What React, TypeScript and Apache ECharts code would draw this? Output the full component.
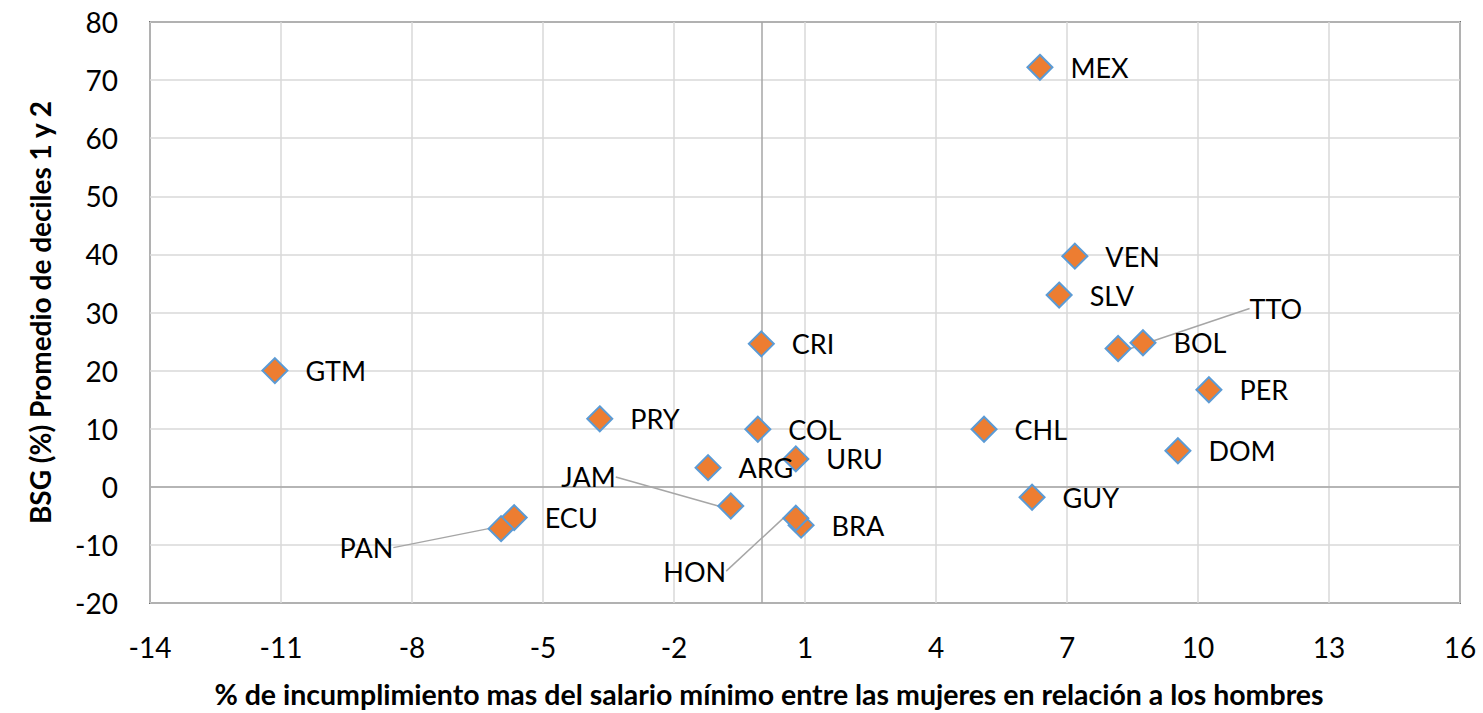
import React, { useEffect, useRef } from "react";
import * as echarts from "echarts";

const codes = ["MEX", "VEN", "SLV", "TTO", "BOL", "PER", "DOM", "CHL", "GUY", "CRI", "COL", "URU", "BRA", "HON", "ARG", "JAM", "PRY", "GTM", "ECU", "PAN"];
const xValues = [6.38, 7.18, 6.82, 8.17, 8.74, 10.25, 9.54, 5.1, 6.2, 0.0, -0.08, 0.79, 0.91, 0.79, -1.22, -0.7, -3.7, -11.14, -5.66, -5.96];
const yValues = [72.2, 39.7, 33.0, 23.8, 24.8, 16.7, 6.2, 9.9, -1.8, 24.6, 9.9, 4.8, -6.6, -5.4, 3.3, -3.3, 11.7, 20.0, -5.3, -7.2];

const xTitle = "% de incumplimiento mas del salario mínimo entre las mujeres en relación a los hombres";
const yTitle = "BSG (%) Promedio de deciles 1 y 2";

// label offsets for labels moved away with a leader line
const moved: Record<string, [number, number]> = {
  TTO: [101, -40],
  JAM: [-200, -29],
  PAN: [-192, 19],
  HON: [-163, 53],
};

export default function App() {
  const ref = useRef<HTMLDivElement>(null);
  useEffect(() => {
    if (!ref.current) return;
    const chart = echarts.init(ref.current, null, { renderer: "svg" });
    const data = codes.map((c, i) => {
      const item: any = { value: [xValues[i], yValues[i]], name: c };
      if (moved[c]) {
        item.labelLine = { show: true, lineStyle: { color: "#a6a6a6", width: 1.5 } };
      }
      return item;
    });
    const font = "Lato, 'Liberation Sans', sans-serif";
    chart.setOption({
      animation: false,
      grid: { left: 150, right: 23, top: 22, bottom: 110, show: true, borderColor: "#000", borderWidth: 1.5 },
      xAxis: {
        type: "value",
        min: -14,
        max: 16,
        interval: 3,
        name: xTitle,
        nameLocation: "middle",
        nameGap: 76,
        nameTextStyle: { fontFamily: font, fontSize: 28.5, fontWeight: "bold", color: "#000", padding: [0, 72, 0, 0] },
        axisLine: { show: false, onZero: false },
        axisTick: { show: false },
        axisLabel: { fontFamily: font, fontSize: 28, color: "#000", margin: 30 },
        splitLine: { show: true, lineStyle: { color: "#d9d9d9", width: 1.5 } },
      },
      yAxis: {
        type: "value",
        min: -20,
        max: 80,
        interval: 10,
        name: yTitle,
        nameLocation: "middle",
        nameGap: 96,
        nameTextStyle: { fontFamily: font, fontSize: 28, fontWeight: "bold", color: "#000" },
        axisLine: { show: false, onZero: false },
        axisTick: { show: false },
        axisLabel: { fontFamily: font, fontSize: 28, color: "#000", margin: 32 },
        splitLine: { show: true, lineStyle: { color: "#d9d9d9", width: 1.5 } },
      },
      series: [
        {
          type: "scatter",
          symbol: "diamond",
          symbolSize: 25,
          itemStyle: { color: "#ED7D31", borderColor: "#5B9BD5", borderWidth: 2, opacity: 1 },
          label: {
            show: true,
            position: "right",
            distance: 17,
            formatter: "{b}",
            fontFamily: font,
            fontSize: 27,
            color: "#000",
          },
          labelLayout: (params: any) => {
            const c = codes[params.dataIndex];
            if (moved[c]) return { dx: moved[c][0], dy: moved[c][1] };
            return {};
          },
          data,
          markLine: {
            silent: true,
            symbol: "none",
            label: { show: false },
            lineStyle: { color: "#a6a6a6", width: 1.5, type: "solid" },
            data: [{ xAxis: 0 }, { yAxis: 0 }],
            z: 1,
          },
        },
      ],
    });
    return () => chart.dispose();
  }, []);
  return (
    <div
      ref={ref}
      style={{ position: "fixed", left: 0, top: 0, width: 1483, height: 713, background: "#fff" }}
    />
  );
}
